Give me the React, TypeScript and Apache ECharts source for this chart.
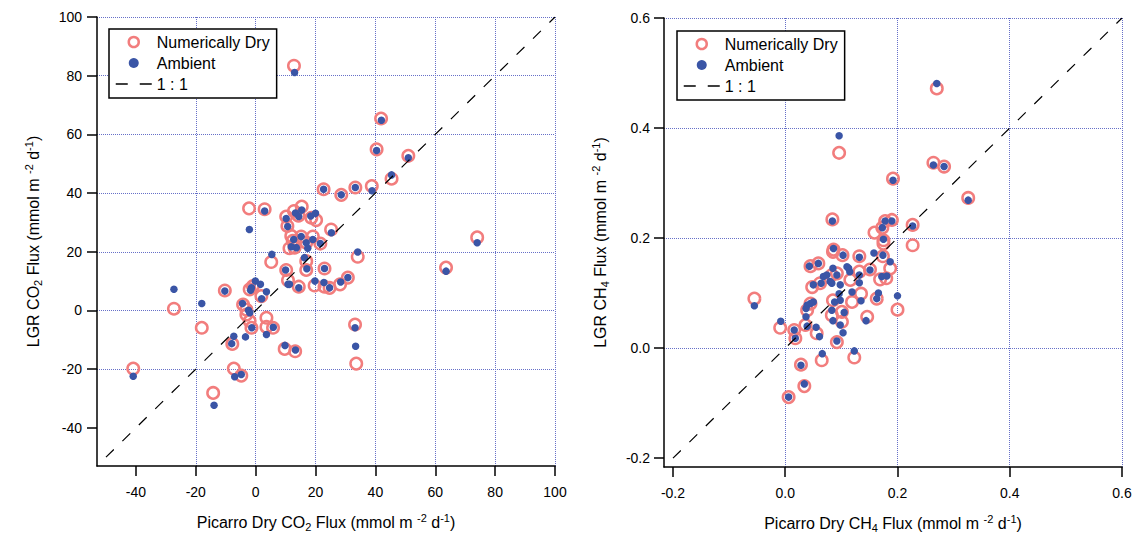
import React, { useEffect, useRef } from "react";
import * as echarts from "echarts";

// ---------- data ----------
const co2Dry: number[][] = [
  [12.8, 83.4], [41.9, 65.4], [40.4, 54.9], [51, 52.7], [45.4, 44.9], [38.8, 42.4], [33.3, 41.9], [28.6, 39.4], [22.7, 41.3], [74, 24.9],
  [-2.2, 34.8], [3, 34.5], [10.2, 32], [12.8, 33.9], [15.4, 35.4], [14.3, 32.3], [10.6, 28.8], [18.6, 31.6], [20.2, 30.8], [25.2, 27.6],
  [34.1, 18.3], [63.6, 14.6], [11.9, 25.4], [13, 21.4], [19.1, 25.2], [16.9, 23.1], [21.6, 22.8], [12.4, 23.7], [16.9, 16.8], [16.9, 13.8],
  [23, 14.3], [10.2, 13.8], [5.2, 16.5], [10.8, 10.3], [14.4, 8.1], [19.7, 8.5], [23, 8.1], [24.7, 7.7], [28.2, 8.9], [30.8, 11.2],
  [33.2, -4.8], [33.6, -18.1], [13.2, -13.9], [9.7, -13.1], [-27.3, 0.6], [-18, -5.9], [-40.9, -19.8], [-14.2, -28.1], [-7.3, -19.8], [-4.8, -22.2],
  [-7.8, -11.4], [-1.4, -5.9], [-4.2, 2], [-3.1, 0.3], [-3.1, -1.4], [-2, -3.6], [3.6, -2.5], [3.6, -5.6], [5.8, -5.9], [1.9, 4.9],
  [-2, 7.2], [-0.9, 8.3], [-10.3, 6.8], [11.3, 21.2], [15.2, 25.2]
];
const co2Ambient: number[][] = [
  [13, 81.1], [42, 64.8], [40.4, 54.5], [51, 52], [45.4, 46.2], [38.9, 40.8], [33.3, 41.9], [28.6, 39.4], [22.7, 41.3], [74, 23.1],
  [-2.1, 27.6], [3, 33.9], [10.2, 31.3], [13.3, 33.2], [15.4, 34.2], [14.4, 32], [10.7, 28.6], [18.4, 32.2], [20, 33.1], [25.3, 26.5],
  [34.1, 19.9], [63.6, 13.4], [12.7, 24.2], [13.6, 21.4], [19.1, 24.2], [16.9, 23.1], [21.6, 22.8], [11.9, 21.7], [15.2, 25.2], [17.4, 21.2],
  [16.3, 18], [17.1, 14.2], [23, 14.3], [10, 13.8], [5.4, 19.1], [10.8, 8.9], [14.4, 7.7], [19.8, 10], [22.8, 9.5], [24.7, 7.7], [28.4, 9.7], [30.8, 11.2],
  [33.2, -5.9], [33.4, -12.2], [13.3, -13.5], [9.8, -11.9], [-27.3, 7.2], [-18, 2.4], [-40.9, -22.4], [-13.9, -32.3], [-7, -22.6], [-4.8, -21.8],
  [-8, -11.3], [-7.3, -8.8], [-3.4, -9], [-1.3, -5.9], [-4.4, 2.4], [-2.4, 0.1], [-2, -0.8], [-0.1, 10], [1.6, 8.9], [-1.4, 7.7], [-1.7, 6.9],
  [3.6, 6.4], [2, 4], [3.6, -8.2], [5.9, -5.7], [-10.3, 6.6], [11.3, 8.9]
];
const ch4Dry: number[][] = [
  [0.27, 0.472], [0.096, 0.355], [0.264, 0.337], [0.283, 0.33], [0.192, 0.308], [0.326, 0.273], [0.084, 0.234], [0.178, 0.231], [0.19, 0.233], [0.227, 0.224],
  [0.227, 0.187], [0.159, 0.21], [0.175, 0.196], [0.173, 0.219], [0.086, 0.179], [0.175, 0.19],
  [0.048, 0.111], [0.062, 0.118], [0.083, 0.133], [0.092, 0.136], [0.116, 0.124], [0.045, 0.081], [0.039, 0.069], [0.036, 0.042], [0.056, 0.027], [0.085, 0.087],
  [0.083, 0.06], [0.101, 0.048], [0.101, 0.066], [0.119, 0.084], [0.135, 0.099], [0.163, 0.09], [0.146, 0.057], [0.092, 0.011], [0.065, -0.022], [0.123, -0.017],
  [-0.055, 0.09], [-0.009, 0.037], [0.016, 0.033], [0.018, 0.018], [0.028, -0.03], [0.034, -0.069], [0.006, -0.089], [0.2, 0.07], [0.187, 0.145], [0.18, 0.127],
  [0.169, 0.125], [0.132, 0.167], [0.102, 0.169], [0.085, 0.175], [0.045, 0.149], [0.059, 0.154], [0.132, 0.139], [0.174, 0.167], [0.151, 0.143]
];
const ch4Ambient: number[][] = [
  [0.27, 0.481], [0.096, 0.386], [0.264, 0.333], [0.283, 0.33], [0.192, 0.305], [0.326, 0.269], [0.084, 0.231], [0.178, 0.231], [0.19, 0.231], [0.227, 0.222],
  [0.173, 0.219], [0.175, 0.198], [0.086, 0.181], [0.103, 0.169], [0.132, 0.165], [0.158, 0.173], [0.174, 0.169], [0.187, 0.157],
  [0.043, 0.149], [0.059, 0.154], [0.068, 0.13], [0.074, 0.133], [0.064, 0.118], [0.085, 0.145], [0.092, 0.133], [0.113, 0.145], [0.115, 0.139], [0.098, 0.115],
  [0.083, 0.118], [0.05, 0.115], [0.08, 0.121], [0.11, 0.148], [0.151, 0.142], [0.132, 0.133], [0.132, 0.119], [0.172, 0.13], [0.181, 0.131], [0.166, 0.1],
  [0.163, 0.09], [0.2, 0.095], [0.119, 0.102], [0.135, 0.086], [0.105, 0.065], [0.098, 0.087], [0.096, 0.099], [0.088, 0.084], [0.083, 0.069], [0.085, 0.05],
  [0.098, 0.042], [0.103, 0.028], [0.144, 0.05], [0.05, 0.084], [0.045, 0.081], [0.039, 0.078], [0.037, 0.072], [0.037, 0.057], [0.039, 0.04], [0.055, 0.038],
  [0.061, 0.021], [0.018, 0.018], [0.016, 0.033], [-0.008, 0.049], [-0.055, 0.077], [0.066, -0.01], [0.092, 0.013], [0.123, -0.005], [0.028, -0.031], [0.034, -0.065],
  [0.006, -0.089]
];
const co2OneToOne: number[][] = [[-50, -50], [100, 100]];
const ch4OneToOne: number[][] = [[-0.2, -0.2], [0.6, 0.6]];
const co2Ticks = [-40, -20, 0, 20, 40, 60, 80, 100];
const ch4Ticks = [-0.2, 0, 0.2, 0.4, 0.6];
const seriesNames = ["Numerically Dry", "Ambient", "1 : 1"];

// ---------- styling ----------
const FONT = "'Liberation Sans', Arial, Helvetica, sans-serif";
const RED = "#F27D7D";
const BLUE = "#3A55A6";
const GRIDC = "#6670C8";

const rich = {
  n: { fontSize: 16, fontFamily: FONT, color: "#000", lineHeight: 20 },
  sup: { fontSize: 11, fontFamily: FONT, color: "#000", verticalAlign: "top" },
  sub: { fontSize: 11, fontFamily: FONT, color: "#000", verticalAlign: "bottom" },
};

function axisName(prefix: string, gas: string) {
  const base = gas.replace(/\d+$/, "");
  const digit = gas.match(/\d+$/)![0];
  return `{n|${prefix}${base}}{sub|${digit}}{n| Flux (mmol m }{sup|-2}{n| d}{sup|-1}{n|)}`;
}

function valueAxis(
  gridIndex: number, min: number, max: number, interval: number, ticks: number[],
  name: string, fmt: (v: number) => string, nameGap: number, labelMargin: number
) {
  return {
    type: "value",
    gridIndex, min, max,
    minInterval: interval, maxInterval: interval, splitNumber: 8,
    name, nameLocation: "middle", nameGap,
    nameTextStyle: { rich },
    axisLine: { show: true, onZero: false, lineStyle: { color: "#000", width: 1.5 } },
    axisTick: { show: true, inside: false, length: 10, customValues: ticks, lineStyle: { color: "#000", width: 1.5 } },
    axisLabel: { customValues: ticks, formatter: fmt, color: "#000", fontSize: 14, fontFamily: FONT, margin: labelMargin },
    splitLine: { show: true, showMinLine: false, lineStyle: { color: GRIDC, type: "dotted", width: 1 } },
  };
}

function legend(left: number, top: number) {
  return {
    orient: "vertical", left, top,
    padding: [2.5, 7, 3.5, 6],
    itemGap: 0, itemWidth: 36, itemHeight: 10,
    borderColor: "#000", borderWidth: 1.5, backgroundColor: "#fff",
    selectedMode: false,
    textStyle: { fontSize: 16, fontFamily: FONT, color: "#000", lineHeight: 21 },
    data: [
      { name: seriesNames[0], icon: "circle", itemStyle: { color: "rgba(0,0,0,0)", borderColor: RED, borderWidth: 2.5, opacity: 1 } },
      { name: seriesNames[1], icon: "circle", itemStyle: { color: BLUE, borderWidth: 0, opacity: 1 } },
      {
        name: seriesNames[2],
        itemStyle: { color: "rgba(0,0,0,0)", borderWidth: 0, opacity: 0 },
        lineStyle: { color: "#000", width: 1.5, type: [12, 12], opacity: 1 },
      },
    ],
  };
}

function panelSeries(ai: number, dry: number[][], amb: number[][], line: number[][]) {
  return [
    {
      name: seriesNames[0], type: "scatter", xAxisIndex: ai, yAxisIndex: ai, data: dry,
      symbol: "circle", symbolSize: 11.5, z: 2,
      itemStyle: { color: "rgba(0,0,0,0)", borderColor: RED, borderWidth: 2.5, opacity: 1 },
    },
    {
      name: seriesNames[1], type: "scatter", xAxisIndex: ai, yAxisIndex: ai, data: amb,
      symbol: "circle", symbolSize: 7.5, z: 3,
      itemStyle: { color: BLUE, opacity: 1 },
    },
    {
      name: seriesNames[2], type: "line", xAxisIndex: ai, yAxisIndex: ai, data: line,
      symbol: "none", showSymbol: false, z: 4, silent: true,
      itemStyle: { color: "#000" },
      lineStyle: { color: "#000", width: 1.2, type: [11, 12] },
    },
  ];
}

export default function App() {
  const ref = useRef<HTMLDivElement>(null);
  useEffect(() => {
    if (!ref.current) return;
    const chart = echarts.init(ref.current, undefined, { renderer: "svg" });
    const fmt1 = (v: number) => (Math.abs(v) < 1e-9 ? 0 : v).toFixed(1);
    const fmt0 = (v: number) => String(Math.round(v));
    chart.setOption({
      animation: false,
      backgroundColor: "#fff",
      grid: [
        { left: 97, top: 17, width: 458, height: 449, outerBoundsMode: "none", containLabel: false },
        { left: 664, top: 18, width: 458, height: 449, outerBoundsMode: "none", containLabel: false },
      ],
      xAxis: [
        valueAxis(0, -53, 100, 20, co2Ticks, axisName("Picarro Dry ", "CO2"), fmt0, 46, 19),
        valueAxis(1, -0.216, 0.6, 0.2, ch4Ticks, axisName("Picarro Dry ", "CH4"), fmt1, 46, 19),
      ],
      yAxis: [
        valueAxis(0, -53, 100, 20, co2Ticks, axisName("LGR ", "CO2"), fmt0, 54, 15),
        valueAxis(1, -0.216, 0.6, 0.2, ch4Ticks, axisName("LGR ", "CH4"), fmt1, 54, 14),
      ],
      legend: [legend(109, 29), legend(677, 31)],
      series: [
        ...panelSeries(0, co2Dry, co2Ambient, co2OneToOne),
        ...panelSeries(1, ch4Dry, ch4Ambient, ch4OneToOne),
      ],
    });
    return () => chart.dispose();
  }, []);
  return (
    <div
      ref={ref}
      style={{ position: "absolute", left: 0, top: 0, width: 1136, height: 533, background: "#fff" }}
    />
  );
}
